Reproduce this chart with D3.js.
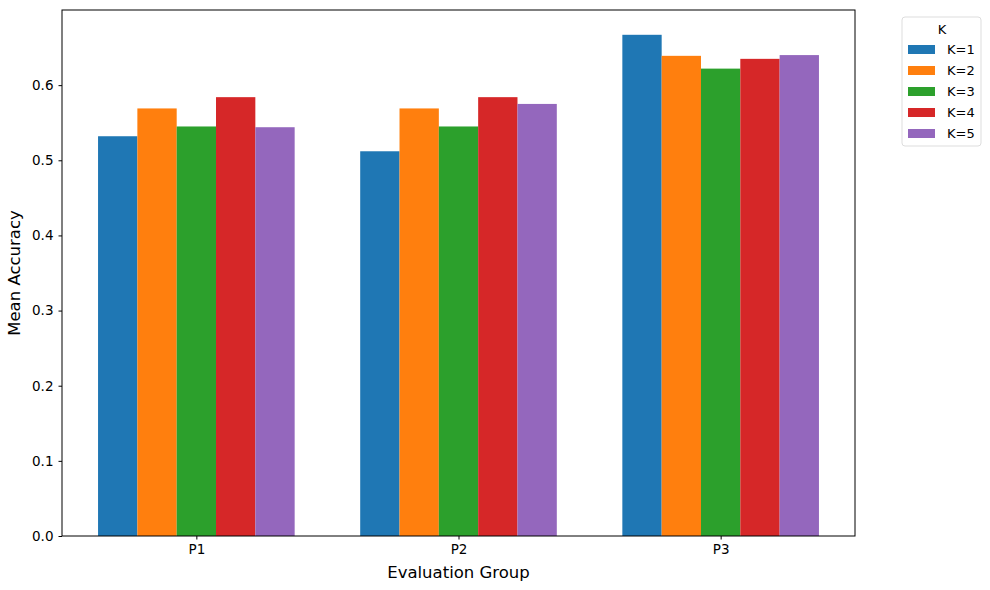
<!DOCTYPE html>
<html>
<head>
  <script src="https://cdn.jsdelivr.net/npm/d3@7"></script>
  <style>
    body { margin: 0; background: #fff; }
    text { font-family: "DejaVu Sans", sans-serif; }
  </style>
</head>
<body>
  <div id="chart"></div>
<script>
  const groups = ["P1", "P2", "P3"];
  const kLabels = ["K=1", "K=2", "K=3", "K=4", "K=5"];
  const k1 = [0.532, 0.512, 0.667];
  const k2 = [0.569, 0.569, 0.639];
  const k3 = [0.545, 0.545, 0.622];
  const k4 = [0.584, 0.584, 0.635];
  const k5 = [0.544, 0.575, 0.640];
  const series = [k1, k2, k3, k4, k5];
  const colors = ["#1f77b4", "#ff7f0e", "#2ca02c", "#d62728", "#9467bd"];
  const yTicks = [0.0, 0.1, 0.2, 0.3, 0.4, 0.5, 0.6];

  const margin = {top: 10, right: 135, bottom: 54, left: 62},
        width = 990 - margin.left - margin.right,
        height = 590 - margin.top - margin.bottom;

  const svg = d3.select("#chart")
    .append("svg")
      .attr("width", 990)
      .attr("height", 590)
    .append("g")
      .attr("transform", "translate(" + margin.left + "," + margin.top + ")");

  const barW = 0.15;
  // matplotlib style x: bars span -0.375..2.375, plus 5% margins
  const x = d3.scaleLinear()
    .domain([-0.5125, 2.5125])
    .range([0, width]);
  const y = d3.scaleLinear()
    .domain([0, 0.7])
    .range([height, 0]);

  // bars
  series.forEach((vals, k) => {
    svg.selectAll(".bar" + k)
      .data(vals)
      .enter()
      .append("rect")
        .attr("x", (d, i) => x(i + (k - 2) * barW - barW / 2))
        .attr("width", x(barW) - x(0))
        .attr("y", d => y(d))
        .attr("height", d => height - y(d))
        .attr("fill", colors[k]);
  });

  // axes
  const xAxis = svg.append("g")
    .attr("transform", "translate(0," + height + ")")
    .call(d3.axisBottom(x).tickValues([0, 1, 2]).tickFormat(i => groups[i]).tickSizeOuter(0).tickSize(3.5).tickPadding(5));
  const yAxis = svg.append("g")
    .call(d3.axisLeft(y).tickValues(yTicks).tickFormat(d3.format(".1f")).tickSizeOuter(0).tickSize(3.5).tickPadding(5));
  [xAxis, yAxis].forEach(a => {
    a.selectAll("text").style("font-size", "13.5px").attr("fill", "#000");
    a.selectAll("line").attr("stroke", "#000");
    a.select(".domain").remove();
  });

  // frame
  svg.append("rect")
    .attr("width", width).attr("height", height)
    .attr("fill", "none").attr("stroke", "#000").attr("stroke-width", 1);

  // axis labels
  svg.append("text")
    .attr("x", width / 2).attr("y", height + 42)
    .attr("text-anchor", "middle").style("font-size", "16.5px")
    .text("Evaluation Group");
  svg.append("text")
    .attr("transform", "rotate(-90)")
    .attr("x", -height / 2).attr("y", -42)
    .attr("text-anchor", "middle").style("font-size", "16.5px")
    .text("Mean Accuracy");

  // legend
  const lg = svg.append("g").attr("transform", "translate(" + (width + 47) + ",7)");
  lg.append("rect")
    .attr("width", 79).attr("height", 129).attr("rx", 3)
    .attr("fill", "#fff").attr("stroke", "#ddd");
  lg.append("text")
    .attr("x", 40).attr("y", 17).attr("text-anchor", "middle")
    .style("font-size", "13px").text("K");
  kLabels.forEach((lab, k) => {
    const yy = 32 + k * 21;
    lg.append("rect")
      .attr("x", 6).attr("y", yy - 4).attr("width", 27).attr("height", 9)
      .attr("fill", colors[k]);
    lg.append("text")
      .attr("x", 45).attr("y", yy + 5)
      .style("font-size", "13px").text(lab);
  });
</script>
</body>
</html>
